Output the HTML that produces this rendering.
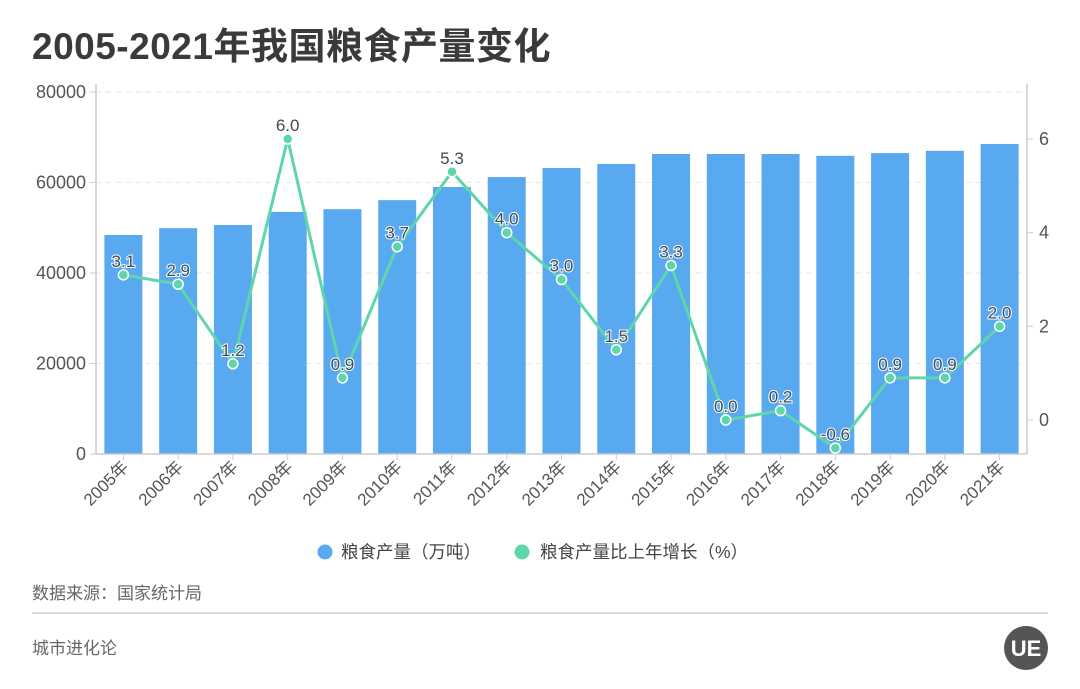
<!DOCTYPE html>
<html><head><meta charset="utf-8"><style>
body{margin:0;background:#fff;font-family:"Liberation Sans","Noto Sans CJK SC",sans-serif;}
#wrap{position:relative;width:1080px;height:689px;overflow:hidden;}
</style></head><body>
<div id="wrap">
<svg id="svg" width="1080" height="689">
<text x="32" y="59" font-size="37" font-weight="bold" fill="#3a3a3a" letter-spacing="0.5" font-family="Liberation Sans, Noto Sans CJK SC, sans-serif">2005-2021年我国粮食产量变化</text>
<g id="grid"></g><g id="bars"></g><g id="axes"></g><g id="line"></g><g id="labels"></g>
<g>
<g><circle cx="325" cy="552" r="7.5" fill="#58a9f0"/><text x="341" y="558" font-size="17.5" fill="#444">粮食产量（万吨）</text></g>
<g><circle cx="522" cy="552" r="7.5" fill="#5fd6aa"/><text x="540" y="558" font-size="17.5" fill="#444">粮食产量比上年增长（%）</text></g>
</g>
<text x="32" y="599" font-size="17" fill="#666">数据来源：国家统计局</text>
<line x1="32" y1="613" x2="1048" y2="613" stroke="#ccc" stroke-width="1.5"/>
<text x="32" y="654" font-size="17" fill="#666">城市进化论</text>
<g><circle cx="1026" cy="648" r="22" fill="#555"/><text x="1026" y="656" font-size="22" font-weight="bold" fill="#fff" text-anchor="middle">UE</text></g>
</svg>
</div>
<script>
const years=["2005年","2006年","2007年","2008年","2009年","2010年","2011年","2012年","2013年","2014年","2015年","2016年","2017年","2018年","2019年","2020年","2021年"];
const production=[48400,49900,50600,53500,54100,56100,59000,61200,63200,64100,66300,66300,66300,65900,66500,67000,68500];
const growth=[3.1,2.9,1.2,6.0,0.9,3.7,5.3,4.0,3.0,1.5,3.3,0.0,0.2,-0.6,0.9,0.9,2.0];
const leftTicks=[0,20000,40000,60000,80000];
const rightTicks=[0,2,4,6];
const NS="http://www.w3.org/2000/svg";
const x0=96,x1=1027,yBase=454,yTop=92;
const step=(x1-x0)/years.length;
const xc=i=>x0+step*(i+0.5);
const yL=v=>yBase-(v/80000)*(yBase-yTop);
const yR=v=>420-v*46.83;
function mk(tag,attrs,parent){const e=document.createElementNS(NS,tag);for(const k in attrs)e.setAttribute(k,attrs[k]);document.getElementById(parent).appendChild(e);return e;}
leftTicks.forEach(t=>{
  const y=yL(t);
  if(t>0){const g=mk('line',{x1:x0,x2:x1,y1:y,y2:y,stroke:'#e6e6e6','stroke-dasharray':'5,5'},'grid');
  
  }
  mk('line',{x1:x0-6,x2:x0,y1:y,y2:y,stroke:'#ccc'},'axes');
  const tx=mk('text',{x:x0-10,y:y+6,'font-size':18,fill:'#555','text-anchor':'end'},'axes');tx.textContent=t;
  
  
});
rightTicks.forEach(t=>{
  const y=yR(t);
  mk('line',{x1:x1,x2:x1+6,y1:y,y2:y,stroke:'#ccc'},'axes');
  const tx=mk('text',{x:x1+12,y:y+6,'font-size':18,fill:'#555'},'axes');tx.textContent=t;
  
  
});
mk('line',{x1:x0,x2:x0,y1:yTop-8,y2:yBase,stroke:'#ccc','stroke-width':1.5},'axes');
mk('line',{x1:x1,x2:x1,y1:yTop-8,y2:yBase,stroke:'#ccc','stroke-width':1.5},'axes');
mk('line',{x1:x0,x2:x1,y1:yBase,y2:yBase,stroke:'#ccc','stroke-width':1.5},'axes');
years.forEach((yr,i)=>{
  const b=mk('rect',{x:xc(i)-19,y:yL(production[i]),width:38,height:yBase-yL(production[i]),fill:'#58a9f0'},'bars');
  
  
  mk('line',{x1:xc(i),x2:xc(i),y1:yBase,y2:yBase+6,stroke:'#ccc'},'axes');
  const t=mk('text',{transform:`translate(${xc(i)+6},${yBase+14}) rotate(-45)`,'font-size':17,fill:'#555','text-anchor':'end'},'axes');t.textContent=yr;
  
  
});
const pts=growth.map((v,i)=>xc(i)+','+yR(v)).join(' ');
const pl=mk('polyline',{points:pts,fill:'none',stroke:'#5fd6aa','stroke-width':3},'line');


growth.forEach((v,i)=>{
  const c=mk('circle',{cx:xc(i),cy:yR(v),r:5,fill:'#5fd6aa',stroke:'#fff','stroke-width':1.5},'line');
  
  
  const t=mk('text',{x:xc(i),y:yR(v)-8,'font-size':17,fill:'#3d4a57','text-anchor':'middle',stroke:'#fff','stroke-width':2,'paint-order':'stroke'},'labels');t.textContent=v.toFixed(1);
  
  
});
</script>
</body></html>
